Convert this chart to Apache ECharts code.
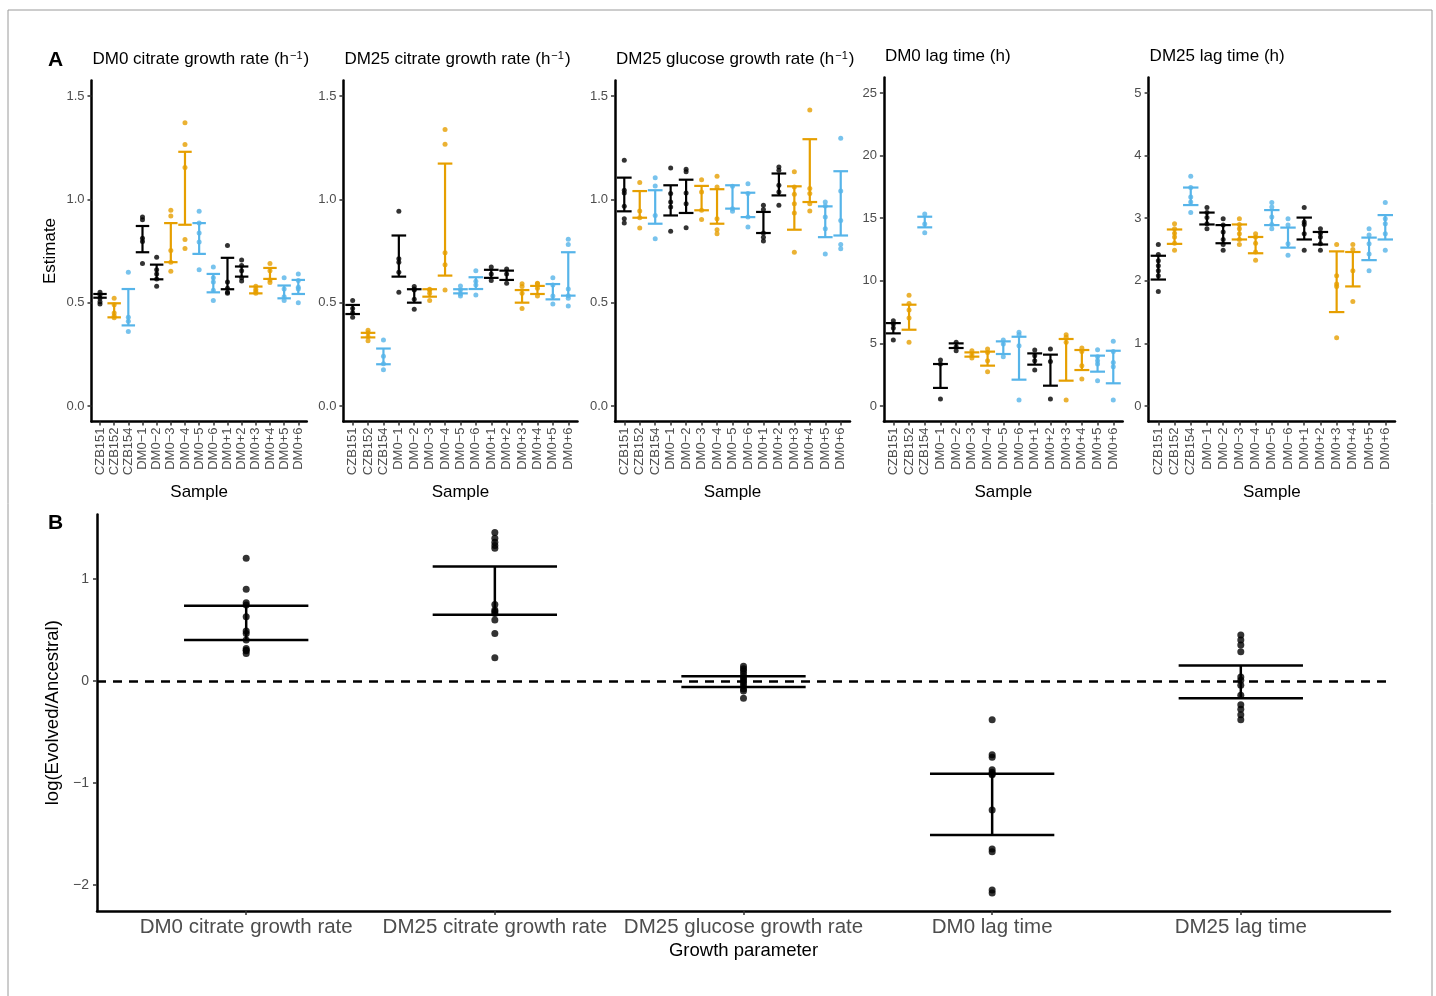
<!DOCTYPE html>
<html>
<head>
<meta charset="utf-8">
<title>Growth parameters of evolved and ancestral strains</title>
<script src="https://cdn.jsdelivr.net/npm/echarts@6/dist/echarts.min.js"></script>
<style>
  html, body { margin: 0; padding: 0; background: #fff; }
  #chart { width: 1436px; height: 996px; }
</style>
</head>
<body>
<div id="chart"></div>
<script>
// ---- data ----
const samples = ['CZB151', 'CZB152', 'CZB154', 'DM0\u22121', 'DM0\u22122', 'DM0\u22123', 'DM0\u22124', 'DM0\u22125',
  'DM0\u22126', 'DM0+1', 'DM0+2', 'DM0+3', 'DM0+4', 'DM0+5', 'DM0+6']
const sampleGroup = [0, 1, 2, 0, 0, 1, 1, 2, 2, 0, 0, 1, 1, 2, 2]

// panel A: replicate estimates and interval bars [low, high], one entry per sample
const dm0CitPoints = [
  [0.55, 0.537, 0.521, 0.505, 0.494], [0.521, 0.49, 0.45, 0.435, 0.427], [0.647, 0.43, 0.41, 0.36],
  [0.914, 0.901, 0.812, 0.796, 0.69], [0.72, 0.659, 0.639, 0.615, 0.58], [0.947, 0.919, 0.752, 0.696, 0.652],
  [1.37, 1.265, 1.154, 0.806, 0.762], [0.942, 0.885, 0.837, 0.793, 0.659], [0.672, 0.62, 0.6, 0.56, 0.51],
  [0.777, 0.6, 0.57, 0.55, 0.545], [0.707, 0.68, 0.655, 0.62, 0.605], [0.58, 0.565, 0.555, 0.545],
  [0.69, 0.655, 0.61, 0.598], [0.62, 0.566, 0.529, 0.51], [0.639, 0.607, 0.574, 0.566, 0.5],
]
const dm0CitBars = [
  [0.524, 0.542], [0.429, 0.497], [0.39, 0.566], [0.744, 0.871], [0.613, 0.684], [0.696, 0.885], [0.877, 1.23],
  [0.736, 0.885], [0.55, 0.639], [0.565, 0.717], [0.626, 0.675], [0.545, 0.578], [0.615, 0.668], [0.521, 0.583],
  [0.542, 0.61],
]
const dm25CitPoints = [
  [0.51, 0.472, 0.451, 0.429], [0.367, 0.354, 0.335, 0.316], [0.319, 0.241, 0.205, 0.176],
  [0.942, 0.712, 0.696, 0.647, 0.55], [0.578, 0.566, 0.561, 0.516, 0.468], [0.565, 0.561, 0.545, 0.51],
  [1.338, 1.267, 0.741, 0.684, 0.561], [0.581, 0.561, 0.542, 0.532], [0.655, 0.604, 0.586, 0.537],
  [0.672, 0.639, 0.607], [0.663, 0.639, 0.594], [0.591, 0.578, 0.545, 0.472],
  [0.594, 0.591, 0.57, 0.532], [0.62, 0.586, 0.532, 0.494], [0.807, 0.781, 0.566, 0.534, 0.521, 0.484],
]
const dm25CitBars = [
  [0.445, 0.489], [0.332, 0.354], [0.202, 0.278], [0.626, 0.825], [0.5, 0.565], [0.529, 0.565], [0.631, 1.173],
  [0.545, 0.565], [0.566, 0.623], [0.62, 0.659], [0.61, 0.655], [0.5, 0.561], [0.542, 0.581], [0.516, 0.59],
  [0.534, 0.744],
]
const dm25GlcPoints = [
  [1.189, 1.044, 1.031, 0.966, 0.906, 0.885], [1.081, 0.943, 0.911, 0.861], [1.105, 1.065, 0.922, 0.809],
  [1.152, 1.028, 0.987, 0.963, 0.846], [1.146, 1.133, 1.031, 0.979, 0.862], [1.095, 1.036, 0.947, 0.903],
  [1.112, 1.06, 0.906, 0.853, 0.833], [1.063, 0.955, 0.942], [1.076, 1.028, 0.914, 0.866],
  [0.971, 0.951, 0.837, 0.817, 0.798], [1.157, 1.141, 1.068, 1.036, 0.971], [1.133, 1.06, 1.024, 0.979, 0.934, 0.744],
  [1.432, 1.052, 1.028, 0.979, 0.943], [0.987, 0.968, 0.914, 0.858, 0.736], [1.296, 1.04, 0.898, 0.782, 0.761],
]
const dm25GlcBars = [
  [0.942, 1.105], [0.911, 1.04], [0.882, 1.044], [0.922, 1.068], [0.934, 1.095], [0.947, 1.065], [0.882, 1.049],
  [0.955, 1.068], [0.914, 1.032], [0.837, 0.939], [1.019, 1.125], [0.853, 1.063], [0.987, 1.291], [0.817, 0.966],
  [0.825, 1.136],
]
const dm0LagPoints = [
  [6.81, 6.54, 6.22, 5.27], [8.85, 8.19, 7.66, 7.02, 5.08], [15.34, 14.54, 13.84],
  [3.67, 3.35, 0.56], [5.08, 4.73, 4.41], [4.41, 4.1, 3.83],
  [4.55, 4.28, 3.62, 2.74], [5.27, 4.95, 3.94], [5.88, 5.69, 4.81, 0.48],
  [4.47, 4.02, 3.62, 2.87], [4.55, 3.56, 0.56], [5.69, 5.48, 5.08, 0.48],
  [4.63, 4.36, 3.22, 2.15], [4.49, 3.94, 3.62, 3.35, 2.02], [5.16, 4.36, 3.48, 3.14, 0.48],
]
const dm0LagBars = [
  [5.8, 6.62], [6.09, 8.09], [14.27, 15.12], [1.44, 3.35], [4.63, 5.0], [3.94, 4.28], [3.22, 4.34], [4.15, 5.16],
  [2.1, 5.53], [3.3, 4.2], [1.62, 4.1], [2.02, 5.35], [2.87, 4.47], [2.74, 4.02], [1.81, 4.41],
]
const dm25LagPoints = [
  [2.58, 2.42, 2.32, 2.24, 2.16, 2.08, 1.83], [2.91, 2.83, 2.76, 2.7, 2.6, 2.49], [3.67, 3.49, 3.34, 3.26, 3.09],
  [3.17, 3.09, 3.01, 2.91, 2.83], [2.99, 2.89, 2.78, 2.66, 2.58, 2.49], [2.99, 2.9, 2.83, 2.75, 2.66, 2.58],
  [2.75, 2.7, 2.6, 2.46, 2.33], [3.25, 3.18, 3.02, 2.9, 2.83], [2.99, 2.89, 2.59, 2.41],
  [3.17, 2.94, 2.9, 2.75, 2.49], [2.83, 2.76, 2.7, 2.59, 2.49], [2.58, 2.08, 1.95, 1.91, 1.09],
  [2.58, 2.5, 2.16, 1.67], [2.83, 2.73, 2.59, 2.43, 2.16], [3.25, 2.99, 2.91, 2.75, 2.49],
]
const dm25LagBars = [
  [2.02, 2.4], [2.59, 2.82], [3.21, 3.49], [2.9, 3.09], [2.6, 2.89], [2.66, 2.9], [2.44, 2.7], [2.89, 3.13],
  [2.53, 2.85], [2.66, 3.01], [2.58, 2.78], [1.5, 2.47], [1.91, 2.46], [2.33, 2.69], [2.66, 3.05],
]
const growthTicks = [0, 0.5, 1, 1.5]
const dm0LagTicks = [0, 5, 10, 15, 20, 25]
const dm25LagTicks = [0, 1, 2, 3, 4, 5]

// panel B: log(evolved/ancestral) per evolved line
const parameters = ['DM0 citrate growth rate', 'DM25 citrate growth rate', 'DM25 glucose growth rate', 'DM0 lag time', 'DM25 lag time']
const ratioPoints = [
  [1.203, 0.898, 0.767, 0.744, 0.63, 0.489, 0.466, 0.4, 0.318, 0.3, 0.295, 0.269],
  [1.456, 1.4, 1.36, 1.328, 1.3, 0.75, 0.695, 0.68, 0.662, 0.597, 0.466, 0.226],
  [0.144, 0.12, 0.1, 0.07, 0.04, 0.02, 0.0, -0.02, -0.05, -0.08, -0.1, -0.17],
  [-0.38, -0.725, -0.748, -0.872, -0.895, -0.91, -0.92, -1.266, -1.649, -1.675, -2.05, -2.08],
  [0.449, 0.4, 0.351, 0.285, 0.039, 0.007, -0.043, -0.141, -0.233, -0.279, -0.331, -0.38],
]
const ratioBars = [[0.4, 0.738], [0.649, 1.121], [-0.059, 0.046], [-1.511, -0.911], [-0.17, 0.151]]
const ratioTicks = [-2, -1, 0, 1]

// ---- styling / layout ----
const FONT = '"Liberation Sans", Arial, Helvetica, sans-serif'
const groupColors = ['#000000', '#E69F00', '#56B4E9']
const TICK_GREY = '#4d4d4d'
const minus = (v) => String(v).replace('-', '\u2212')

const panelsA = [
  { pts: dm0CitPoints, bars: dm0CitBars, ticks: growthTicks, min: -0.075, max: 1.575, left: 91.5, width: 215.3, top: 80.5, height: 341, digits: 1, title: 'DM0 citrate growth rate (h{sup|\u22121})', titleTop: 50 },
  { pts: dm25CitPoints, bars: dm25CitBars, ticks: growthTicks, min: -0.075, max: 1.575, left: 343.4, width: 234.1, top: 80.5, height: 341, digits: 1, title: 'DM25 citrate growth rate (h{sup|\u22121})', titleTop: 50 },
  { pts: dm25GlcPoints, bars: dm25GlcBars, ticks: growthTicks, min: -0.075, max: 1.575, left: 615, width: 235, top: 80.5, height: 341, digits: 1, title: 'DM25 glucose growth rate (h{sup|\u22121})', titleTop: 50 },
  { pts: dm0LagPoints, bars: dm0LagBars, ticks: dm0LagTicks, min: -1.25, max: 26.25, left: 883.9, width: 238.8, top: 77.4, height: 344.2, digits: 0, title: 'DM0 lag time (h)', titleTop: 48 },
  { pts: dm25LagPoints, bars: dm25LagBars, ticks: dm25LagTicks, min: -0.25, max: 5.25, left: 1148.6, width: 246.4, top: 77.4, height: 344.2, digits: 0, title: 'DM25 lag time (h)', titleTop: 48 },
]

function errorBarSeries(axisIndex, bars, colorOf, capWidth, lineWidth) {
  return {
    type: 'custom',
    xAxisIndex: axisIndex,
    yAxisIndex: axisIndex,
    silent: true,
    z: 3,
    encode: { x: 0, y: [1, 2] },
    data: bars.map((b, i) => ({ value: [i, b[0], b[1]], itemStyle: { color: colorOf(i) } })),
    renderItem(params, api) {
      const x = api.value(0)
      const lo = api.coord([x, api.value(1)])
      const hi = api.coord([x, api.value(2)])
      const half = api.size([capWidth, 0])[0] / 2
      const style = { stroke: api.visual('color'), lineWidth, fill: null }
      return {
        type: 'group',
        children: [
          { type: 'line', shape: { x1: lo[0], y1: lo[1], x2: hi[0], y2: hi[1] }, style },
          { type: 'line', shape: { x1: hi[0] - half, y1: hi[1], x2: hi[0] + half, y2: hi[1] }, style },
          { type: 'line', shape: { x1: lo[0] - half, y1: lo[1], x2: lo[0] + half, y2: lo[1] }, style },
        ],
      }
    },
  }
}

function pointSeries(axisIndex, pts, colorOf, size) {
  const data = []
  pts.forEach((arr, i) => arr.forEach((v) => data.push({ value: [i, v], itemStyle: { color: colorOf(i) } })))
  return { type: 'scatter', xAxisIndex: axisIndex, yAxisIndex: axisIndex, symbolSize: size, silent: true, z: 4, data }
}

const grids = []
const xAxes = []
const yAxes = []
const series = []
const titles = []
const sampleIdx = samples.map((s, i) => i)
const sampleColor = (i) => groupColors[sampleGroup[i]]

panelsA.forEach((p, k) => {
  grids.push({ left: p.left, top: p.top, width: p.width, height: p.height })
  xAxes.push({
    type: 'value', gridIndex: k, min: -0.6, max: 14.6,
    name: 'Sample', nameLocation: 'middle', nameGap: 62,
    nameTextStyle: { fontSize: 17, color: '#000', fontFamily: FONT },
    axisLine: { onZero: false, lineStyle: { color: '#000', width: 2.5 } },
    axisTick: { customValues: sampleIdx, length: 4, lineStyle: { color: '#333', width: 1.5 } },
    axisLabel: { customValues: sampleIdx, formatter: (v) => samples[Math.round(v)], rotate: 90, fontSize: 13, color: TICK_GREY, margin: 6, fontFamily: FONT },
    splitLine: { show: false },
  })
  yAxes.push({
    type: 'value', gridIndex: k, min: p.min, max: p.max,
    name: k === 0 ? 'Estimate' : '', nameLocation: 'middle', nameGap: 33, nameRotate: 90,
    nameTextStyle: { fontSize: 17, color: '#000', fontFamily: FONT },
    axisLine: { show: true, onZero: false, lineStyle: { color: '#000', width: 2.5 } },
    axisTick: { show: true, customValues: p.ticks, length: 4, lineStyle: { color: '#333', width: 1.5 } },
    axisLabel: { customValues: p.ticks, formatter: (v) => v.toFixed(p.digits), fontSize: 13, color: TICK_GREY, margin: 7, fontFamily: FONT },
    splitLine: { show: false },
  })
  series.push(pointSeries(k, p.pts, sampleColor, 5))
  series.push(errorBarSeries(k, p.bars, sampleColor, 0.95, 2.2))
  titles.push({
    text: p.title, left: p.left + 1, top: p.titleTop, padding: 0,
    textStyle: {
      fontSize: 17, fontWeight: 'normal', color: '#000', fontFamily: FONT,
      rich: { sup: { fontSize: 11, verticalAlign: 'top', padding: [0, 1, 8, 1], color: '#000', fontFamily: FONT } },
    },
  })
})

// panel B
const kb = panelsA.length
const paramIdx = parameters.map((s, i) => i)
grids.push({ left: 97, top: 514.4, width: 1293, height: 396.6 })
xAxes.push({
  type: 'value', gridIndex: kb, min: -0.6, max: 4.6,
  name: 'Growth parameter', nameLocation: 'middle', nameGap: 30,
  nameTextStyle: { fontSize: 18.5, color: '#000', fontFamily: FONT },
  axisLine: { onZero: false, lineStyle: { color: '#000', width: 2.5 } },
  axisTick: { customValues: paramIdx, length: 4, lineStyle: { color: '#333', width: 1.5 } },
  axisLabel: { customValues: paramIdx, formatter: (v) => parameters[Math.round(v)], fontSize: 20.5, color: TICK_GREY, margin: 6, fontFamily: FONT },
  splitLine: { show: false },
})
yAxes.push({
  type: 'value', gridIndex: kb, min: -2.257, max: 1.633,
  name: 'log(Evolved/Ancestral)', nameLocation: 'middle', nameGap: 31, nameRotate: 90,
  nameTextStyle: { fontSize: 18.5, color: '#000', fontFamily: FONT },
  axisLine: { show: true, onZero: false, lineStyle: { color: '#000', width: 2.5 } },
  axisTick: { show: true, customValues: ratioTicks, length: 4, lineStyle: { color: '#333', width: 1.5 } },
  axisLabel: { customValues: ratioTicks, formatter: (v) => minus(v), fontSize: 14, color: TICK_GREY, margin: 8, fontFamily: FONT },
  splitLine: { show: false },
})
const ratioPts = pointSeries(kb, ratioPoints, () => '#000', 7)
ratioPts.markLine = {
  silent: true, symbol: 'none', label: { show: false },
  lineStyle: { type: [9, 7], color: '#000', width: 2.5 },
  data: [{ yAxis: 0 }],
}
series.push(ratioPts)
series.push(errorBarSeries(kb, ratioBars, () => '#000', 0.5, 2.5))

const chart = echarts.init(document.getElementById('chart'), null, { renderer: 'canvas' })
chart.setOption({
  animation: false,
  backgroundColor: '#fff',
  title: titles,
  grid: grids,
  xAxis: xAxes,
  yAxis: yAxes,
  series,
  graphic: [
    { type: 'rect', shape: { x: 8, y: 10, width: 1424, height: 992 }, style: { fill: null, stroke: '#9a9a9a', lineWidth: 1 }, silent: true },
    { type: 'text', left: 48, top: 50, style: { text: 'A', fontSize: 21, fontWeight: 'bold', fill: '#000', fontFamily: FONT } },
    { type: 'text', left: 48, top: 513, style: { text: 'B', fontSize: 21, fontWeight: 'bold', fill: '#000', fontFamily: FONT } },
  ],
})
</script>
</body>
</html>
